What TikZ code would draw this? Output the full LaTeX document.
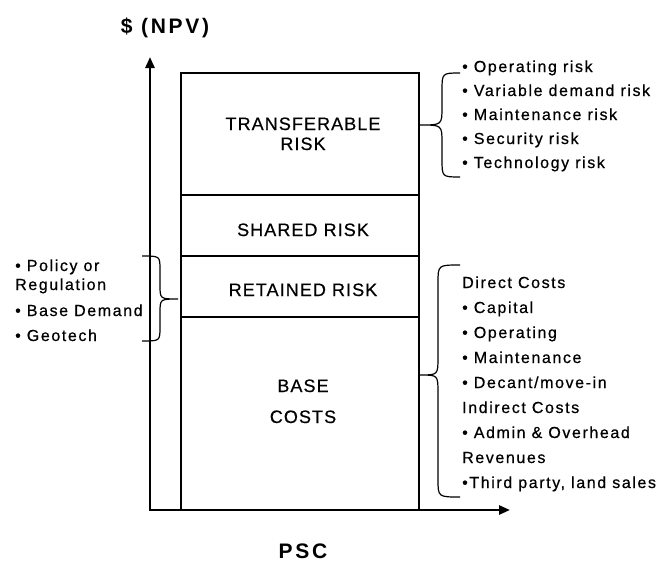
\documentclass[tikz,border=0pt]{standalone}
\usepackage{fontspec}
\setmainfont{Liberation Sans}
\newfontfamily\listfont[LetterSpace=10,FakeBold=0.6]{Liberation Sans}
\newfontfamily\bandfont[LetterSpace=6,FakeBold=0.5]{Liberation Sans}
\newfontfamily\axisfont[LetterSpace=13]{Liberation Sans}
\usetikzlibrary{arrows.meta}

\begin{document}
\begin{tikzpicture}[x=1pt,y=-1pt,
    axis/.style={line width=2.5pt,
      {Triangle[length=11pt,width=9pt]}-{Triangle[length=11pt,width=9pt]}},
    band/.style={line width=1.5pt},
    brace/.style={line width=1.2pt},
    bandlabel/.style={font=\bandfont\fontsize{18}{20}\selectfont,anchor=base,inner sep=0pt},
    item/.style={font=\listfont\fontsize{16}{20}\selectfont,anchor=base west,inner sep=0pt},
    title/.style={font=\axisfont\bfseries\fontsize{21}{24}\selectfont,inner sep=0pt}]
  \useasboundingbox (0,0) rectangle (662,563);

  % the stacked bar
  \draw[band] (181,73) rectangle (419,510);
  \foreach \y in {195,256,317}
    \draw[band] (181,\y) -- (419,\y);

  % axes
  \coordinate (origin) at (150,510);
  \coordinate (ytop) at (150,57);
  \coordinate (xend) at (510,510);
  \draw[axis] (ytop) -- (origin) -- (xend);
  \node[title] (npv) at (165,28) {\$ (NPV)};
  \node[title] (psc) at (303,551) {PSC};

  % bar labels
  \node[bandlabel] (transfer) at (303,130) {TRANSFERABLE};
  \node[bandlabel] (transferb) at (303,150) {RISK};
  \node[bandlabel] (shared) at (303,236) {SHARED RISK};
  \node[bandlabel] (retained) at (303,296) {RETAINED RISK};
  \node[bandlabel] (base) at (303,392) {BASE};
  \node[bandlabel] (baseb) at (303,423) {COSTS};

  % transferable risks
  \foreach \t [count=\i from 0] in {Operating risk,Variable demand risk,
      Maintenance risk,Security risk,Technology risk}
    \node[item] (risk\i) at (462,72+24*\i) {• \t};
  \draw[brace] (460,73) .. controls (442,73) .. (442,91) -- (442,107)
    .. controls (442,125) .. (420,125) .. controls (442,125) .. (442,143)
    -- (442,159) .. controls (442,177) .. (460,177);

  % base cost items
  \foreach \t [count=\i from 0] in {Direct Costs,• Capital,• Operating,
      • Maintenance,• Decant/move-in,Indirect Costs,• Admin \& Overhead,
      Revenues,{•Third party, land sales}}
    \node[item] (cost\i) at (462,288+25*\i) {\t};
  \draw[brace] (460,265) .. controls (438,265) .. (438,283) -- (438,357)
    .. controls (438,375) .. (420,375) .. controls (438,375) .. (438,393)
    -- (438,479) .. controls (438,497) .. (460,497);

  % retained risks
  \node[item] (policy) at (15,271) {• Policy or};
  \node[item] (regulation) at (15,290) {Regulation};
  \node[item] (demand) at (15,316) {• Base Demand};
  \node[item] (geotech) at (15,341) {• Geotech};
  \draw[brace] (142,256) .. controls (160,256) .. (160,270) -- (160,285)
    .. controls (160,299) .. (178,299) .. controls (160,299) .. (160,313)
    -- (160,327) .. controls (160,341) .. (142,341);
\end{tikzpicture}
\end{document}
